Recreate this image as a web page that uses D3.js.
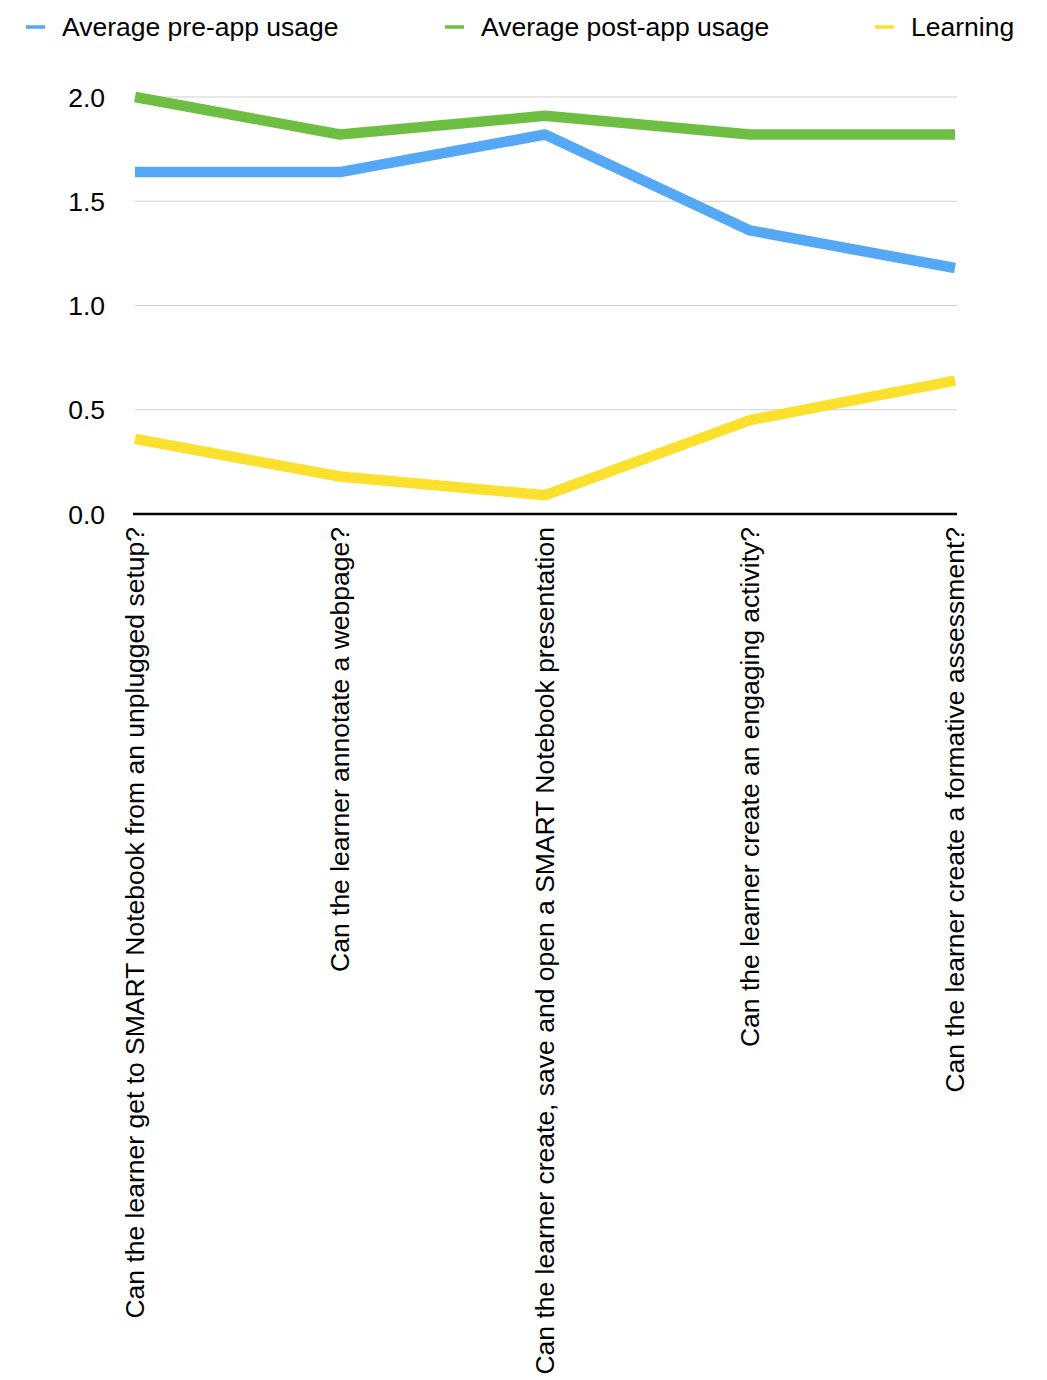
<!DOCTYPE html>
<html>
<head>
<meta charset="utf-8">
<script src="https://cdn.jsdelivr.net/npm/d3@7"></script>
<style>
  body { margin: 0; background: #fff; }
  text { font-family: "Liberation Sans", Arial, Helvetica, sans-serif; fill: #000; }
</style>
</head>
<body>
<svg id="chart" width="1047" height="1380"></svg>
<script>
// categories
let questions = [
  'Can the learner get to SMART Notebook from an unplugged setup?',
  'Can the learner annotate a webpage?',
  'Can the learner create, save and open a SMART Notebook presentation',
  'Can the learner create an engaging activity?',
  'Can the learner create a formative assessment?'
];
let preApp = [1.64, 1.64, 1.82, 1.36, 1.18];
let postApp = [2.0, 1.82, 1.91, 1.82, 1.82];
let learning = [0.36, 0.18, 0.09, 0.45, 0.64];
let yTicks = [0, 0.5, 1.0, 1.5, 2.0];

let seriesList = [
  {name: 'Average pre-app usage', values: preApp, color: '#55A8F6'},
  {name: 'Average post-app usage', values: postApp, color: '#6FBE44'},
  {name: 'Learning', values: learning, color: '#FBE02E'}
];

let svg = d3.select('#chart');
let plotLeft = 135, plotRight = 957, plotTop = 97, plotBottom = 514;
let fontSize = '26.5px';

let x = d3.scalePoint().domain(d3.range(questions.length)).range([plotLeft, plotRight - 2]);
let y = d3.scaleLinear().domain([0, 2]).range([plotBottom, plotTop]);

// grid
svg.append('g').selectAll('line').data(yTicks.filter(d => d > 0)).join('line')
  .attr('x1', plotLeft).attr('x2', plotRight)
  .attr('y1', d => y(d)).attr('y2', d => y(d))
  .attr('stroke', '#d0d0d0').attr('stroke-width', 1.2);

// y labels
svg.append('g').selectAll('text').data(yTicks).join('text')
  .attr('x', 105).attr('y', d => y(d)).attr('dy', '0.36em')
  .attr('text-anchor', 'end').style('font-size', fontSize)
  .text(d => d3.format('.1f')(d));

// lines
let line = d3.line().x((d, i) => x(i)).y(d => y(d));
svg.append('g').selectAll('path').data(seriesList).join('path')
  .attr('d', s => line(s.values))
  .attr('fill', 'none').attr('stroke', s => s.color)
  .attr('stroke-width', 10.5).attr('stroke-linejoin', 'round').attr('stroke-linecap', 'butt');

// x axis line
svg.append('line').attr('x1', plotLeft - 2).attr('x2', plotRight).attr('y1', plotBottom).attr('y2', plotBottom)
  .attr('stroke', '#000').attr('stroke-width', 2.5);

// x labels, rotated
svg.append('g').selectAll('text').data(questions).join('text')
  .attr('transform', (d, i) => `translate(${x(i)},527) rotate(-90)`)
  .attr('dy', '0.35em').attr('text-anchor', 'end').style('font-size', fontSize)
  .text(d => d);

// legend
let legendX = [26, 445, 875];
let lg = svg.append('g').selectAll('g').data(seriesList).join('g')
  .attr('transform', (d, i) => `translate(${legendX[i]},27)`);
lg.append('line').attr('x1', 0).attr('x2', 19).attr('y1', 0).attr('y2', 0)
  .attr('stroke', d => d.color).attr('stroke-width', 3.5);
lg.append('text').attr('x', 36).attr('dy', '0.35em').style('font-size', fontSize).text(d => d.name);
</script>
</body>
</html>
